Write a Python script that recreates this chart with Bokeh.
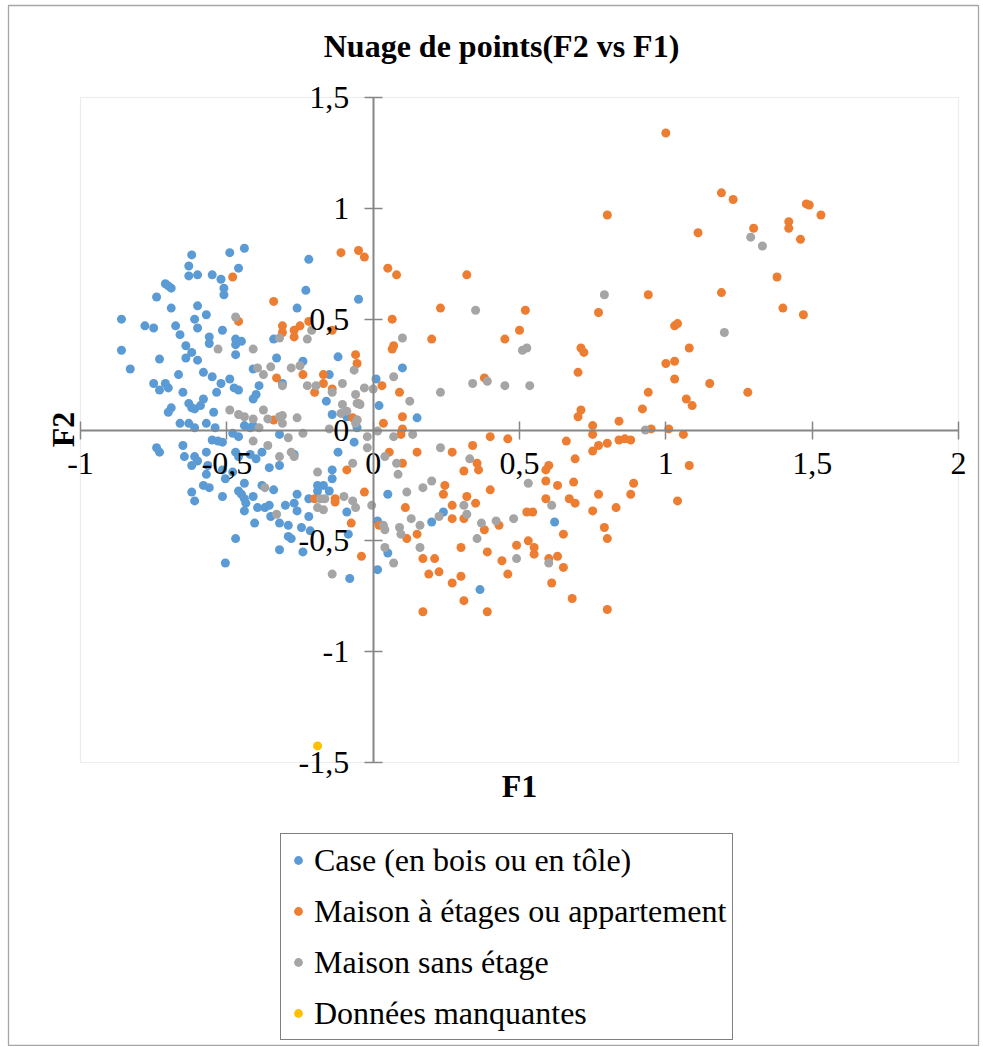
import math
from bokeh.plotting import figure
from bokeh.models import Range1d, FixedTicker, Label, Legend, LegendItem, BoxAnnotation
from bokeh.embed import file_html
from bokeh.resources import INLINE

FONT = "Liberation Serif"

title_text = "Nuage de points(F2 vs F1)"
x_title = "F1"
y_title = "F2"

x_ticks = [-1.0, -0.5, 0.0, 0.5, 1.0, 1.5, 2.0]
x_tick_labels = ["-1", "-0,5", "0", "0,5", "1", "1,5", "2"]
y_ticks = [-1.5, -1.0, -0.5, 0.0, 0.5, 1.0, 1.5]
y_tick_labels = ["-1,5", "-1", "-0,5", "0", "0,5", "1", "1,5"]

series_names = ["Case (en bois ou en tôle)", "Maison à étages ou appartement",
                "Maison sans étage", "Données manquantes"]
series_colors = ["#5B9BD5", "#ED7D31", "#A5A5A5", "#FFC000"]

# --- Case (en bois ou en tôle) ---
case_f1 = [-0.44, -0.49, -0.62, -0.63, -0.46, -0.63, -0.60, -0.55, -0.52, -0.71, -0.70, -0.69, -0.51, -0.51,
           -0.74, -0.60, -0.69, -0.57, -0.86, -0.61, -0.78, -0.75, -0.675, -0.60, -0.66, -0.515, -0.56, -0.56,
           -0.47, -0.45, -0.47, -0.34, -0.64, -0.62, -0.86, -0.47, -0.64, -0.60, -0.73, -0.33, -0.83, -0.665,
           -0.58, -0.55, -0.49, -0.41, -0.52, -0.475, -0.46, -0.39, -0.75, -0.71, -0.73, -0.70, -0.65, -0.535,
           -0.40, -0.41, -0.58, -0.63, -0.62, -0.61, -0.59, -0.69, -0.70, -0.545, -0.66, -0.63, -0.57, -0.61,
           -0.54, -0.44, -0.42, -0.41,
           -0.48, -0.46, -0.74, -0.73, -0.65, -0.55, -0.53, -0.515, -0.57, -0.645, -0.61, -0.60, -0.62, -0.565,
           -0.47, -0.46, -0.42, -0.38, -0.40, -0.355, -0.57, -0.515, -0.505, -0.48, -0.44, -0.58, -0.56, -0.38,
           -0.46, -0.45, -0.62, -0.61, -0.515, -0.41, -0.44, -0.435, -0.44, -0.395, -0.37, -0.355, -0.35, -0.32,
           -0.405, -0.47, -0.32, -0.505,
           -0.22, -0.23, -0.26, -0.05, -0.24, -0.12, 0.10, -0.15, -0.31, 0.01, 0.02, -0.16, -0.14, -0.09,
           -0.055, 0.15,
           -0.32, -0.065, -0.12, -0.27, -0.32, -0.14, -0.14, -0.34, -0.26, -0.19, -0.17, -0.15, -0.19, 0.05,
           -0.22, -0.30, -0.27, -0.26, -0.29, -0.22, -0.09, -0.245, -0.215, 0.015, -0.29, -0.28, -0.085, 0.05,
           -0.24, 0.015, -0.08,
           0.24, 0.20, 0.62, 0.365]
case_f2 = [0.82, 0.80, 0.79, 0.74, 0.73, 0.695, 0.70, 0.70, 0.68, 0.66, 0.65, 0.64, 0.64, 0.61,
           0.60, 0.56, 0.55, 0.52, 0.50, 0.50, 0.47, 0.46, 0.47, 0.46, 0.43, 0.45, 0.42, 0.39,
           0.41, 0.40, 0.385, 0.41, 0.38, 0.35, 0.36, 0.34, 0.325, 0.315, 0.32, 0.325, 0.275, 0.25,
           0.26, 0.24, 0.23, 0.275, 0.21, 0.19, 0.18, 0.20, 0.21, 0.21, 0.18, 0.19, 0.17, 0.17,
           0.16, 0.14, 0.14, 0.12, 0.10, 0.095, 0.11, 0.10, 0.08, 0.08, 0.03, 0.03, 0.03, 0.01,
           0.01, 0.02, 0.01, 0.02,
           -0.015, -0.03, -0.08, -0.10, -0.07, -0.045, -0.05, -0.055, -0.10, -0.12, -0.12, -0.14, -0.16, -0.16,
           -0.10, -0.12, -0.11, -0.10, -0.13, -0.17, -0.20, -0.18, -0.22, -0.19, -0.24, -0.25, -0.26, -0.25,
           -0.275, -0.29, -0.28, -0.32, -0.30, -0.30, -0.31, -0.33, -0.365, -0.35, -0.35, -0.34, -0.39, -0.42,
           -0.42, -0.49, -0.54, -0.60,
           0.77, 0.63, 0.55, 0.59, 0.31, 0.33, 0.28, 0.25, 0.21, 0.23, 0.11, 0.13, 0.07, 0.06,
           0.01, 0.055,
           -0.02, -0.055, -0.10, -0.11, -0.16, -0.18, -0.22, -0.27, -0.29, -0.25, -0.25, -0.275, -0.275, -0.29,
           -0.31, -0.34, -0.33, -0.365, -0.43, -0.39, -0.37, -0.44, -0.455, -0.41, -0.48, -0.49, -0.47, -0.555,
           -0.55, -0.63, -0.67,
           -0.37, -0.415, -0.415, -0.72]

# --- Maison à étages ou appartement ---
etage_f1 = [1.00, 1.19, 1.23, 0.80, 1.11, 1.30, 1.42, 1.42, 1.48, 1.49, 1.53, 1.46, 1.38, 1.19, 0.94,
            1.40, 1.47, 1.03, 1.04, 1.08, 1.00, 1.03, 1.03, 1.15, 1.28, 0.94, 1.07, 1.09, 0.92, 0.84,
            0.95, 1.01, 1.06, 0.77, 0.77, 0.80, 0.84, 0.86, 0.88, 1.08, 0.89, 0.88, 0.83, 1.04, 0.79,
            0.80, 0.80, 0.77,
            0.32, 0.23, 0.52, 0.50, 0.45, 0.20, 0.71, 0.72, 0.70, 0.38, 0.71, 0.70, 0.75, 0.40, 0.46,
            0.66, 0.75, 0.75, 0.27, 0.34, 0.355, 0.36, 0.31, 0.69, 0.59, 0.60, 0.59, 0.63, 0.685, 0.245,
            0.24, 0.40, 0.32, 0.35, 0.27, 0.27, 0.31, 0.38, 0.43, 0.525, 0.545, 0.59, 0.67, 0.69, 0.75,
            0.65, 0.53, 0.55, 0.55, 0.49, 0.30, 0.39, 0.44, 0.60, 0.63, 0.65, 0.46, 0.61, 0.68, 0.21,
            0.17, 0.225, 0.19, 0.30, 0.27, 0.31, 0.39, 0.17,
            -0.11, -0.05, -0.03, 0.05, 0.08, -0.34, 0.065, -0.31, -0.27, -0.27, -0.25, -0.22, -0.31, -0.14,
            0.07, 0.065, -0.06, -0.055, -0.33, -0.24, -0.17, -0.17, -0.20, -0.14, -0.05, 0.03, 0.09, 0.10,
            0.035, -0.07, -0.055, -0.34, -0.48, -0.46, 0.10, 0.095, 0.15, 0.055, 0.10, -0.09, -0.03, -0.13,
            -0.13, -0.20, 0.11, -0.075, 0.02, 0.115, 0.15, -0.04]
etage_f2 = [1.34, 1.07, 1.04, 0.97, 0.89, 0.91, 0.94, 0.91, 1.02, 1.015, 0.97, 0.86, 0.69, 0.62, 0.61,
            0.55, 0.52, 0.47, 0.48, 0.37, 0.30, 0.31, 0.23, 0.21, 0.17, 0.17, 0.14, 0.11, 0.095, 0.04,
            0.005, 0.005, -0.02, 0.53, -0.07, -0.06, -0.045, -0.04, -0.045, -0.16, -0.24, -0.29, -0.35, -0.32, -0.44,
            -0.49, -0.81, -0.29,
            0.70, 0.55, 0.54, 0.45, 0.41, 0.41, 0.37, 0.35, 0.26, 0.235, 0.09, 0.06, 0.02, -0.03, -0.04,
            -0.05, -0.02, -0.095, -0.10, -0.07, -0.15, -0.18, -0.185, -0.13, -0.18, -0.16, -0.23, -0.25, -0.235, -0.25,
            -0.29, -0.27, -0.30, -0.33, -0.34, -0.40, -0.40, -0.45, -0.43, -0.37, -0.37, -0.31, -0.31, -0.33, -0.365,
            -0.47, -0.50, -0.53, -0.56, -0.52, -0.53, -0.55, -0.59, -0.58, -0.57, -0.62, -0.65, -0.69, -0.76, -0.58,
            -0.58, -0.64, -0.65, -0.66, -0.69, -0.77, -0.82, -0.82,
            0.80, 0.81, 0.78, 0.73, 0.70, 0.58, 0.50, 0.47, 0.45, 0.42, 0.47, 0.49, 0.44, 0.45,
            0.38, 0.365, 0.34, 0.30, 0.235, 0.25, 0.25, 0.21, 0.17, 0.185, 0.12, 0.20, 0.17, 0.06,
            0.03, 0.055, 0.045, 0.045, 0.69, 0.49, 0.005, -0.02, -0.10, -0.10, -0.15, -0.18, -0.28, -0.31,
            -0.325, -0.31, -0.35, -0.42, -0.43, -0.49, -0.47, -0.57]

# --- Maison sans étage ---
sans_f1 = [0.79, 1.29, 1.33, 1.20, 0.93, 0.35, 0.51, 0.525, 0.34, 0.39, 0.45, 0.535, 0.23, 0.23, 0.33,
           0.53, 0.20, 0.17, 0.31, 0.32, 0.225, 0.37, 0.42, 0.48, 0.61, 0.355, 0.49, 0.60, 0.16, 0.16,
           -0.47, -0.53, -0.41, -0.395, -0.35, -0.375, -0.49, -0.46, -0.44, -0.41, -0.375, -0.36, -0.39, -0.32,
           -0.32,
           -0.41, -0.36, -0.32, -0.37, -0.33,
           0.10, -0.225, -0.21, -0.28, -0.25, -0.065, 0.07, -0.31, -0.225, -0.195, -0.105, -0.14, -0.03, 0.00,
           -0.06, -0.055, -0.045, 0.125, -0.105, -0.09, -0.11, -0.31, -0.31, -0.26, -0.055, -0.15,
           -0.28, -0.27, -0.24, -0.29, -0.06, -0.02, 0.015, -0.02, 0.04, -0.07, -0.19, 0.08, 0.085, 0.07,
           0.135, 0.115, -0.18, -0.165, -0.19, -0.17, -0.10, -0.07, -0.06, -0.005, 0.035, 0.04, 0.09, 0.095,
           0.13, 0.04, 0.07, -0.14]
sans_f2 = [0.61, 0.87, 0.83, 0.44, 0.00, 0.54, 0.36, 0.37, 0.21, 0.22, 0.20, 0.20, 0.17, -0.08, -0.13,
           -0.24, -0.23, -0.26, -0.34, -0.38, -0.39, -0.42, -0.41, -0.40, -0.34, -0.49, -0.58, -0.60, -0.43, -0.53,
           0.51, 0.365, 0.365, 0.28, 0.285, 0.25, 0.09, 0.07, 0.06, 0.05, 0.09, 0.05, 0.01, 0.06,
           0.415,
           -0.05, -0.07, -0.12, -0.26, -0.38,
           0.415, 0.41, 0.45, 0.28, 0.29, 0.27, 0.24, 0.20, 0.20, 0.20, 0.21, 0.17, 0.19, 0.185,
           0.16, 0.12, 0.115, 0.13, 0.115, 0.085, 0.075, 0.065, 0.03, 0.055, 0.045, 0.005,
           -0.10, -0.12, -0.015, -0.035, 0.03, -0.03, -0.005, -0.08, -0.12, -0.15, -0.19, -0.15, -0.20, -0.03,
           -0.02, -0.28, -0.31, -0.31, -0.35, -0.36, -0.30, -0.32, -0.35, -0.34, -0.43, -0.45, -0.44, -0.47,
           -0.40, -0.53, -0.60, -0.65]

# --- Données manquantes ---
nd_f1 = [-0.19]
nd_f2 = [-1.425]

# ---------------- layout (pixels) ----------------
W, H = 982, 1046
CHART_L, CHART_T, CHART_R = 8, 5, 978          # outer chart border
PA_L, PA_R, PA_T, PA_B = 80, 958, 97, 762      # plot area

xmin, xmax = min(x_ticks), max(x_ticks)
ymin, ymax = min(y_ticks), max(y_ticks)
sx = (PA_R - PA_L) / (xmax - xmin)
sy = (PA_B - PA_T) / (ymax - ymin)
x_start = xmin - (PA_L - CHART_L) / sx
x_end = xmax + (CHART_R - PA_R) / sx
y_end = ymax + (PA_T - CHART_T) / sy
y_start = ymin - (H - PA_B) / sy


def at(px, py):
    """pixel anchor -> data coordinates (for text placement only)"""
    return xmin + (px - PA_L) / sx, ymax - (py - PA_T) / sy


p = figure(width=W, height=H, output_backend="svg", toolbar_location=None, title=None,
           x_range=Range1d(x_start, x_end), y_range=Range1d(y_start, y_end),
           min_border_left=CHART_L, min_border_right=W - CHART_R, min_border_top=CHART_T,
           min_border_bottom=0)
p.xgrid.visible = False
p.ygrid.visible = False
p.outline_line_color = "#a6a6a6"
p.outline_line_width = 1.3
p.background_fill_color = "white"
p.border_fill_color = "white"

p.add_layout(BoxAnnotation(left=xmin, right=xmax, bottom=ymin, top=ymax, fill_color=None,
                           line_color="#bfbfbf", line_width=1.2, level="underlay"))

for ax, ticks, labels, standoff, bnds in ((p.xaxis[0], x_ticks, x_tick_labels, 14, (xmin, xmax)),
                                          (p.yaxis[0], y_ticks, y_tick_labels, 15, (ymin, ymax))):
    ax.fixed_location = 0
    ax.bounds = bnds
    ax.ticker = FixedTicker(ticks=ticks)
    ax.major_label_overrides = dict(zip(ticks, labels))
    ax.minor_tick_line_color = None
    ax.axis_line_color = "#868686"
    ax.axis_line_width = 2
    ax.major_tick_line_color = "#868686"
    ax.major_tick_line_width = 1.5
    ax.major_tick_in = 9
    ax.major_tick_out = 9
    ax.major_label_text_font = FONT
    ax.major_label_text_font_size = "32px"
    ax.major_label_text_color = "black"
    ax.major_label_standoff = standoff

renderers = []
for xs, ys, col in ((case_f1, case_f2, series_colors[0]),
                    (etage_f1, etage_f2, series_colors[1]),
                    (sans_f1, sans_f2, series_colors[2]),
                    (nd_f1, nd_f2, series_colors[3])):
    r = p.scatter(xs, ys, size=9, fill_color=col, line_color=None)
    renderers.append(r)

tx, ty = at(501, 45)
p.add_layout(Label(x=tx, y=ty, text=title_text, text_font=FONT, text_font_size="32px",
                   text_font_style="bold", text_align="center", text_baseline="middle",
                   text_color="black"))
fx, fy = at(519, 785)
p.add_layout(Label(x=fx, y=fy, text=x_title, text_font=FONT, text_font_size="32px",
                   text_font_style="bold", text_align="center", text_baseline="middle",
                   text_color="black"))
gx, gy = at(62, 429)
p.add_layout(Label(x=gx, y=gy, text=y_title, text_font=FONT, text_font_size="32px",
                   text_font_style="bold", text_align="center", text_baseline="middle",
                   angle=math.pi / 2, text_color="black"))

legend = Legend(items=[LegendItem(label=n, renderers=[r]) for n, r in zip(series_names, renderers)],
                location=(280 - CHART_L, H - 1040), margin=0, padding=6, spacing=11,
                glyph_width=22, glyph_height=40, label_height=40, label_standoff=5,
                label_text_font=FONT, label_text_font_size="32px", label_text_color="black",
                border_line_color="black", border_line_width=1, background_fill_color="white",
                background_fill_alpha=1.0)
p.add_layout(legend, "center")

open("out.html", "w").write(file_html(p, INLINE))
